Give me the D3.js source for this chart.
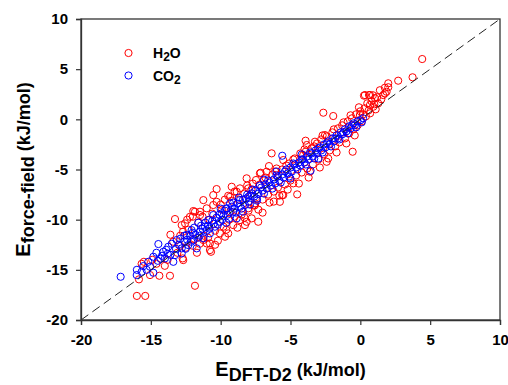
<!DOCTYPE html>
<html><head><meta charset="utf-8">
<script src="https://cdn.jsdelivr.net/npm/d3@7/dist/d3.min.js"></script>
<style>body{margin:0;background:#fff;} svg{display:block;font-family:"Liberation Sans",Arial,sans-serif;font-weight:bold;}</style>
</head><body>
<script>
const seriesNames = ["H2O", "CO2"];
const xTicks = [-20, -15, -10, -5, 0, 5, 10];
const yTicks = [-20, -15, -10, -5, 0, 5, 10];
const h2o = [
[-16.0,-17.6],[-15.4,-17.6],[-15.85,-15.95],[-15.66,-14.4],[-15.06,-15.52],[-14.39,-15.59],[-13.63,-15.59],[-11.84,-16.59],
[-13.27,-9.94],[-11.84,-9.21],[-12.68,-14.03],[-10.69,-13.2],[-12.72,-13.86],[-12.7,-11.2],[-11.48,-9.54],[-12.2,-9.71],
[-12.79,-10.54],[-12.55,-10.37],[-10.77,-12.37],[-10.05,-11.37],[-9.69,-11.7],[-9.1,-10.54],[-8.62,-10.04],[-8.14,-10.21],
[-9.33,-7.72],[-8.85,-7.22],[-10.29,-8.22],[-10.53,-7.55],[-11.0,-8.87],[-12.0,-9.71],[-11.96,-9.14],[-11.48,-9.21],
[-10.29,-6.95],[-9.21,-6.72],[-8.62,-6.88],[-8.14,-5.88],[-7.47,-6.05],[-9.46,-7.62],[-11.24,-8.05],[-10.53,-8.54],
[-8.02,-8.87],[-7.54,-8.54],[-7.78,-9.87],[-7.31,-10.21],[-8.26,-10.54],[-9.46,-11.37],[-10.77,-13.03],[-11.0,-12.37],[-11.24,-12.03],
[-6.35,-3.39],[-5.52,-4.06],[-7.19,-5.38],[-6.71,-5.22],[-8.02,-6.88],[-5.52,-7.55],[-5.76,-8.22],[-4.52,-7.48],[-3.61,-5.22],
[-4.09,-3.56],[-3.84,-2.56],[-3.25,-2.23],[-2.53,-1.57],[-2.41,-4.23],[-4.8,-6.38],[-7.54,-8.37],[-6.54,-4.66],[-3.92,-2.13],
[-5.59,-7.55],[-7.14,-5.32],
[-2.65,0.66],[-1.94,0.33],[-0.55,-3.23],[0.33,2.42],[1.76,2.59],[1.28,1.59],[0.69,1.43],[-0.03,0.43],[4.43,6.01],[3.74,4.19],
[2.71,3.85],[2.0,3.59],[1.76,3.15],[1.88,2.75],[1.64,2.42],[1.05,2.09],[0.93,1.26],[0.69,2.42],[0.26,2.36],[0.62,2.42],
[-14.9,-14.0],[-14.0,-14.6],[-13.4,-12.2],[-12.9,-12.6],[-13.1,-13.3],[-12.3,-11.0],[-12.0,-12.6],[-11.6,-10.3],[-11.2,-11.6],
[-11.5,-12.4],[-10.9,-11.8],[-10.6,-9.4],[-10.4,-11.1],[-10.2,-12.1],[-9.9,-9.0],[-9.8,-10.7],[-9.4,-10.0],[-9.2,-8.1],
[-9.0,-9.7],[-8.7,-8.0],[-8.5,-9.5],[-8.3,-7.4],[-8.0,-9.1],[-7.8,-7.0],[-7.6,-8.6],[-7.2,-6.5],[-7.0,-8.0],[-6.9,-6.1],
[-6.6,-7.5],[-6.3,-5.5],[-6.2,-7.2],[-6.0,-4.9],[-5.9,-6.8],[-5.6,-5.0],[-5.4,-6.5],[-5.1,-4.4],[-5.0,-6.1],[-4.7,-3.9],
[-4.6,-5.6],[-4.3,-3.4],[-4.2,-5.3],[-3.9,-3.2],[-3.8,-4.9],[-3.5,-2.9],[-3.4,-4.5],[-3.1,-2.4],[-3.0,-4.0],[-2.8,-2.0],
[-2.6,-3.5],[-2.4,-1.7],[-2.2,-3.1],[-2.0,-1.3],[-1.8,-2.7],[-1.6,-0.9],[-1.5,-2.3],[-1.3,-0.6],[-1.1,-1.9],[-0.9,-0.2],
[-0.8,-1.4],[-0.6,0.1],[-0.5,-1.0],[-0.3,0.5],[-0.2,-0.6],[0.0,0.8],[0.1,-0.2],[0.3,1.1],[0.4,0.3],[0.6,0.9],[0.8,1.8],
[1.0,1.5],[1.2,2.2],[1.5,2.0],[2.0,3.2],[1.4,2.9],
[-9.7,-8.0],[-9.0,-7.2],[-8.8,-10.8],[-8.3,-9.8],[-7.7,-6.4],[-7.3,-9.0],[-6.8,-5.8],[-6.5,-8.3],[-6.1,-5.2],[-5.8,-7.6],
[-5.3,-4.6],[-5.2,-7.0],[-4.8,-4.0],[-4.4,-6.4],[-4.0,-3.0],[-3.7,-5.8],[-3.3,-2.7],[-2.9,-4.8],[-2.7,-1.6],[-2.3,-3.9],
[-1.9,-1.0],[-1.7,-3.3],[-1.2,-0.3],[-1.0,-2.4],[-0.7,0.4],[-0.4,-1.6],[-0.1,1.2],[0.2,0.5],[0.5,1.6],[0.7,0.6],[0.9,2.4],[1.1,1.0],
[-12.4,-10.0],[-11.7,-13.3],[-11.3,-9.7],[-10.8,-10.0],[-10.4,-12.5],[-10.0,-8.5],[-9.6,-11.0],[-9.3,-9.2],[-13.6,-11.5],
[-13.8,-14.0],[-12.9,-11.6],[-14.6,-14.4],[-15.5,-14.2],[-11.9,-11.9],[-12.5,-12.8],[-8.1,-6.6],[-7.0,-9.3],[-6.2,-8.2]
];
const co2 = [
[-17.16,-15.69],[-16.01,-15.52],[-15.66,-15.19],[-15.54,-14.63],[-15.18,-14.2],[-15.06,-14.69],[-14.82,-15.29],[-14.82,-13.7],
[-14.46,-12.43],[-14.1,-13.2],[-13.99,-13.86],[-13.75,-12.7],[-13.39,-14.2],[-13.27,-13.53],[-13.15,-12.03],[-12.79,-12.86],
[-12.79,-13.36],[-12.43,-11.53],[-12.32,-12.53],[-12.08,-11.04],[-11.96,-12.03],[-11.72,-12.86],[-11.48,-11.2],[-11.24,-11.86],
[-11.12,-10.7],[-10.89,-10.04],[-10.77,-11.37],[-10.53,-9.54],[-10.41,-10.7],[-10.05,-10.21],[-9.93,-9.37],[-9.57,-8.87],
[-9.33,-8.37],[-9.1,-9.21],[-8.85,-9.87],[-8.62,-8.05],[-8.26,-8.54],[-8.02,-7.72],[-7.78,-7.38],
[-14.6,-13.3],[-14.3,-13.9],[-13.9,-13.0],[-13.6,-13.5],[-13.5,-12.4],[-13.0,-12.5],[-12.9,-11.9],[-12.6,-12.2],[-12.5,-12.9],
[-12.2,-11.6],[-12.0,-11.3],[-11.8,-11.5],[-11.6,-11.8],[-11.4,-10.6],[-11.3,-10.9],[-11.0,-11.1],[-10.9,-10.6],[-10.6,-10.1],
[-10.3,-9.8],[-10.2,-10.5],[-9.8,-9.6],[-9.7,-9.1],[-9.5,-9.5],[-9.2,-8.7],[-9.0,-8.9],[-8.8,-8.4],[-8.6,-8.7],[-8.4,-8.0],
[-8.2,-7.9],[-8.0,-8.2],[-7.9,-7.6],[-7.6,-7.7],[-7.5,-7.1],[-7.3,-7.4],[-7.1,-6.8],[-7.0,-7.1],[-6.8,-6.5],[-6.7,-6.9],
[-6.5,-6.3],[-6.4,-6.6],[-6.2,-6.0],[-6.1,-6.4],[-5.9,-5.7],[-5.8,-6.1],[-5.6,-5.5],[-5.5,-5.8],[-5.3,-5.0],[-5.2,-5.4],
[-5.0,-4.8],[-4.9,-5.2],[-4.7,-4.5],[-4.6,-4.8],[-4.4,-4.3],[-4.3,-4.6],[-4.1,-4.0],[-4.0,-4.3],[-3.8,-3.7],[-3.7,-4.0],
[-3.5,-3.4],[-3.4,-3.7],[-3.2,-3.1],[-3.1,-3.4],[-2.9,-2.8],[-2.8,-3.1],[-2.6,-2.5],[-2.5,-2.8],[-2.3,-2.2],[-2.2,-2.5],
[-2.0,-1.9],[-1.9,-2.2],[-1.7,-1.6],[-1.6,-1.9],[-1.4,-1.3],[-1.3,-1.5],[-1.1,-1.0],[-1.0,-1.2],[-0.8,-0.7],[-0.7,-0.9],
[-0.5,-0.4],[-0.4,-0.6],[-0.2,-0.2],[0.0,-0.1],[0.2,0.1],
[-5.59,-3.63],[-3.56,-5.12],[-6.0,-5.2],[-6.9,-6.0],[-5.0,-5.9],[-4.2,-3.5],[-3.0,-3.9],[-7.4,-8.1],[-8.4,-9.2],[-9.6,-10.3],
[-10.0,-8.9],[-11.6,-10.3],
[-12.6,-11.6],[-12.1,-12.2],[-11.9,-10.8],[-11.5,-11.6],[-11.1,-10.3],[-10.8,-10.9],[-10.5,-10.4],[-10.1,-9.5],[-9.9,-10.0],
[-9.6,-8.9],[-9.4,-9.9],[-9.1,-8.3],[-8.9,-9.3],[-8.7,-7.8],[-8.5,-8.9],[-8.1,-7.5],[-7.9,-8.5],[-7.7,-7.0],[-7.4,-7.9],
[-7.2,-6.6],[-6.9,-7.4],[-6.6,-6.1],[-6.3,-6.9],[-6.0,-5.6],[-5.7,-6.3],[-5.4,-5.2],[-5.1,-5.7],[-4.8,-4.4],[-4.5,-5.0],
[-4.2,-4.0],[-3.9,-4.5],[-3.6,-3.3],[-3.3,-3.9],[-3.0,-2.9],[-2.7,-3.3],[-2.4,-2.4],[-2.1,-2.7],[-1.8,-1.9],[-1.5,-2.0],
[-1.2,-1.3],[-0.9,-1.4],[-0.6,-0.6],[-0.3,-0.8],[0.1,-0.3],[-13.8,-13.4],[-14.2,-13.6],[-13.2,-12.9],[-12.4,-12.0],
[-15.3,-15.0],[-14.5,-14.1],[-16.0,-15.0]
];

const W = 508, H = 385;
const m = {left: 81, right: 8, top: 19, bottom: 65};
const svg = d3.select("body").append("svg").attr("width", W).attr("height", H);
const x = d3.scaleLinear().domain([-20, 10]).range([m.left, W - m.right]);
const y = d3.scaleLinear().domain([-20, 10]).range([H - m.bottom, m.top]);
const axisColor = "#333";

const colors = {H2O: "#ff0000", CO2: "#0000ff"};
const sets = [["H2O", h2o], ["CO2", co2]];
sets.forEach(([name, data]) => {
  svg.append("g").selectAll("circle").data(data).join("circle")
    .attr("cx", d => x(d[0])).attr("cy", d => y(d[1])).attr("r", 3.6)
    .attr("fill", "none").attr("stroke", colors[name]).attr("stroke-width", 1);
});

svg.append("line")
  .attr("x1", x(-20)).attr("y1", y(-20)).attr("x2", x(10)).attr("y2", y(10))
  .attr("stroke", "#222").attr("stroke-width", 1).attr("stroke-dasharray", "9,5");

svg.append("rect").attr("x", x(-20)).attr("y", y(10))
  .attr("width", x(10) - x(-20)).attr("height", y(-20) - y(10))
  .attr("fill", "none").attr("stroke", axisColor).attr("stroke-width", 1.3);

const fmt = d => d3.format("d")(d).replace("−", "-");
const gx = svg.append("g").attr("transform", `translate(0,${y(-20)})`)
  .call(d3.axisBottom(x).tickValues(xTicks).tickSize(5).tickPadding(9).tickFormat(fmt));
const gy = svg.append("g").attr("transform", `translate(${x(-20)},0)`)
  .call(d3.axisLeft(y).tickValues(yTicks).tickSize(5).tickPadding(8).tickFormat(fmt));
[gx, gy].forEach(g => {
  g.select(".domain").attr("stroke", axisColor).attr("stroke-width", 1.3);
  g.selectAll(".tick line").attr("stroke", axisColor).attr("stroke-width", 1.2);
  g.selectAll(".tick text").attr("fill", "#000").style("font-size", "15px")
    .style("font-family", "Liberation Sans, Arial, sans-serif").style("font-weight", "bold");
});

const xt = svg.append("text").attr("x", (x(-20) + x(10)) / 2).attr("y", 376)
  .attr("text-anchor", "middle").style("font-size", "18px").attr("fill", "#000");
xt.append("tspan").text("E").style("font-size", "20px");
xt.append("tspan").attr("dy", 5).text("DFT-D2");
xt.append("tspan").attr("dy", -5).text(" (kJ/mol)");

const yt = svg.append("text").attr("transform", `translate(30,${(y(-20) + y(10)) / 2}) rotate(-90)`)
  .attr("text-anchor", "middle").style("font-size", "18px").attr("fill", "#000");
yt.append("tspan").text("E").style("font-size", "20px");
yt.append("tspan").attr("dy", 4).text("force-field");
yt.append("tspan").attr("dy", -4).text(" (kJ/mol)");

const leg = [["H2O", "H", "2", "O"], ["CO2", "CO", "2", ""]];
leg.forEach((L, i) => {
  const cy = 53 + i * 22.5;
  svg.append("circle").attr("cx", 128.5).attr("cy", cy).attr("r", 3.6)
    .attr("fill", "none").attr("stroke", colors[L[0]]).attr("stroke-width", 1);
  const t = svg.append("text").attr("x", 153).attr("y", cy + 5).style("font-size", "14px").attr("fill", "#000");
  t.append("tspan").text(L[1]);
  t.append("tspan").attr("dy", 3).style("font-size", "12px").text(L[2]);
  if (L[3]) t.append("tspan").attr("dy", -3).text(L[3]);
});
</script>
</body></html>
